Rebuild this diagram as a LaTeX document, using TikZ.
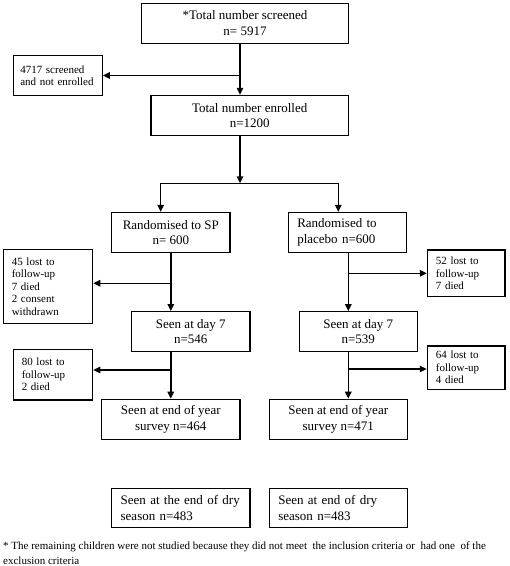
\documentclass[tikz,border=0pt]{standalone}
\usepackage{fontspec}
\setmainfont{Liberation Serif}
\usepackage{tikz}
\usetikzlibrary{arrows.meta,positioning,calc}
\hyphenpenalty=10000

\begin{document}
\begin{tikzpicture}[x=1pt, y=1pt]
	\tikzstyle{bigbox} = [rectangle, draw=black, line width=1.2pt, align=center,
	font=\fontsize{13}{15.5}\selectfont, minimum height=40pt]
	\tikzstyle{leftbox} = [rectangle, draw=black, line width=1.2pt, align=left,
	inner xsep=9pt, font=\fontsize{13}{15.5}\selectfont, minimum height=40pt]
	\tikzstyle{smallbox} = [rectangle, draw=black, line width=1.2pt, align=left,
	inner xsep=8.5pt, font=\fontsize{11}{12.5}\selectfont]
	\tikzstyle{arr} = [-{Triangle[length=7pt,width=6.5pt]}, line width=1.5pt]
	\useasboundingbox (0,0) rectangle (510,566);
	% screening
	\node (screened) at (245,542.7) [bigbox, minimum width=206.6pt]
		{*Total number screened\\n= 5917};
	\node (excluded) at (57.8,490.5) [smallbox, inner xsep=7pt, text width=75pt, minimum height=39.6pt]
		{4717 screened\\and not enrolled};
	\node (enrolled) at ($(screened.south)+(4.7pt,-71.5pt)$) [bigbox, minimum width=197.3pt]
		{Total number enrolled\\n=1200};
	\coordinate (split) at (240,382.7);
	\coordinate (splitL) at (160.7,382.7);
	\coordinate (splitR) at (338.3,382.7);
	\draw[arr] (screened.south -| split) -- (enrolled.north -| split);
	\draw[arr] (split |- excluded.east) -- (excluded.east);
	\draw[arr] (enrolled.south -| split) -- (split);
	\draw[line width=1.5pt] (splitL) -- (splitR);
	% randomisation
	\node (sp) at (170.8,333.5) [bigbox, minimum width=118.3pt]
		{Randomised to SP\\n= 600};
	\node (placebo) at (347.5,333.5) [leftbox, text width=100.4pt]
		{Randomised to\\placebo n=600};
	\draw[arr] (splitL) -- (sp.north -| splitL);
	\draw[arr] (splitR) -- (placebo.north -| splitR);
	\coordinate (pltrunk) at ($(placebo.south)+(0.8pt,0)$);
	% day 7
	\node (lostsp1) at (48,279.7) [smallbox, text width=72.4pt, minimum height=74pt]
		{45 lost to\\follow-up\\7 died\\2 consent\\withdrawn};
	\node (lostpl1) at (466.2,292.7) [smallbox, text width=60.7pt, minimum height=46.7pt]
		{52 lost to\\follow-up\\7 died};
	\node (daysp) at (190.8,234.3) [bigbox, minimum width=118.3pt]
		{Seen at day 7\\n=546};
	\node (daypl) at (358.3,234.3) [bigbox, minimum width=118pt]
		{Seen at day 7\\n=539};
	\draw[arr] (sp.south) -- (sp.south |- daysp.north);
	\draw[arr] ($(sp.south |- lostsp1.east)+(0,3pt)$) -- ($(lostsp1.east)+(0,3pt)$);
	\draw[arr] (pltrunk) -- (pltrunk |- daypl.north);
	\draw[arr] (pltrunk |- lostpl1.west) -- (lostpl1.west);
	% end of year
	\node (lostsp2) at (53,191.3) [smallbox, text width=62.4pt, minimum height=50.7pt]
		{80 lost to\\follow-up\\2 died};
	\node (lostpl2) at (466.2,198.3) [smallbox, text width=60.7pt, minimum height=43.3pt]
		{64 lost to\\follow-up\\4 died};
	\node (yearsp) at (170.8,146.7) [bigbox, minimum width=138.3pt]
		{Seen at end of year\\survey n=464};
	\node (yearpl) at (338.3,146.7) [bigbox, minimum width=138pt]
		{Seen at end of year\\survey n=471};
	\draw[arr] (sp.south |- daysp.south) -- (sp.south |- yearsp.north);
	\draw[arr] ($(sp.south |- lostsp2.east)+(0,4.7pt)$) -- ($(lostsp2.east)+(0,4.7pt)$);
	\draw[arr] (pltrunk |- daypl.south) -- (pltrunk |- yearpl.north);
	\draw[arr] ($(pltrunk |- lostpl2.west)+(0,-1.3pt)$) -- ($(lostpl2.west)+(0,-1.3pt)$);
	% dry season
	\node (drysp) at (180.8,58) [leftbox, text width=120.3pt, minimum height=39.4pt]
		{Seen at the end of dry\\season n=483};
	\node (drypl) at (338.3,58) [leftbox, text width=120pt, minimum height=39.4pt]
		{Seen at end of dry\\season n=483};
	% footnote
	\node (note) at (3,24) [anchor=north west, inner sep=0pt, align=left,
	font=\fontsize{11}{15}\selectfont]
		{* The remaining children were not studied because they did not meet\ \ the inclusion criteria or\ \ had one\ \ of the\\exclusion criteria};
\end{tikzpicture}
\end{document}
